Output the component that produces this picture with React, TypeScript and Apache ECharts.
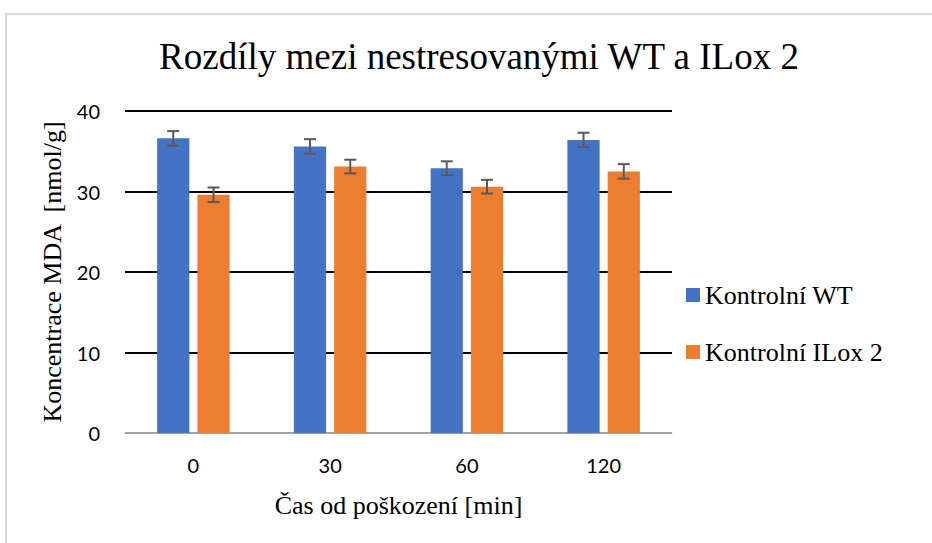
import React, { useEffect, useRef } from "react";
import * as echarts from "echarts";

const categories = ["0", "30", "60", "120"];
const wtValues = [36.6, 35.6, 32.9, 36.4];
const wtErrors = [0.9, 0.9, 0.85, 0.9];
const iloxValues = [29.6, 33.1, 30.6, 32.5];
const iloxErrors = [0.9, 0.85, 0.85, 0.9];
const seriesNames = ["Kontrolní WT", "Kontrolní ILox 2"];
const yTicks = { min: 0, max: 40, interval: 10 };

const BAR_CAT_GAP = 0.47;
const BAR_GAP = 0.25;

function errorSeries(values: number[], errors: number[], side: number) {
  return {
    type: "custom",
    silent: true,
    z: 10,
    data: values.map((v, i) => [i, v - errors[i], v + errors[i]]),
    renderItem: (params: any, api: any) => {
      const idx = api.value(0);
      const lo = api.coord([idx, api.value(1)]);
      const hi = api.coord([idx, api.value(2)]);
      const band = api.size([1, 0])[0];
      const barW = (band * (1 - BAR_CAT_GAP)) / (2 + BAR_GAP);
      const off = (barW + barW * BAR_GAP) / 2;
      const x = lo[0] + side * off;
      const cap = 6;
      const style = { stroke: "#595959", lineWidth: 2 };
      return {
        type: "group",
        children: [
          { type: "line", shape: { x1: x, y1: lo[1], x2: x, y2: hi[1] }, style },
          { type: "line", shape: { x1: x - cap, y1: lo[1], x2: x + cap, y2: lo[1] }, style },
          { type: "line", shape: { x1: x - cap, y1: hi[1], x2: x + cap, y2: hi[1] }, style },
        ],
      };
    },
  };
}

export default function App() {
  const ref = useRef<HTMLDivElement>(null);
  useEffect(() => {
    if (!ref.current) return;
    const chart = echarts.init(ref.current, null, { renderer: "svg" });
    chart.setOption({
      animation: false,
      backgroundColor: "#ffffff",
      title: {
        text: "Rozdíly mezi nestresovanými WT a ILox 2",
        left: 474,
        textAlign: "center",
        top: 33,
        textStyle: {
          fontFamily: "Liberation Serif",
          fontSize: 37,
          fontWeight: "normal",
          color: "#000000",
        },
      },
      graphic: [
        {
          type: "polyline",
          shape: { points: [[6, 543], [6, 14], [932, 14]] },
          style: { stroke: "#d9d9d9", lineWidth: 2, fill: "none" },
        },
      ],
      legend: {
        data: seriesNames,
        orient: "vertical",
        left: 681,
        top: 277,
        itemWidth: 14,
        itemHeight: 14,
        itemGap: 31,
        icon: "rect",
        textStyle: {
          fontFamily: "Liberation Serif",
          fontSize: 26,
          color: "#000000",
        },
      },
      grid: { left: 125, right: 260, top: 111, bottom: 110 },
      xAxis: {
        type: "category",
        data: categories,
        name: "Čas od poškození [min]",
        nameLocation: "middle",
        nameGap: 59,
        nameTextStyle: { fontFamily: "Liberation Serif", fontSize: 26, color: "#000000" },
        axisLine: { lineStyle: { color: "#d9d9d9", width: 1.5 } },
        axisTick: { show: false },
        axisLabel: { fontFamily: "Lato", fontSize: 20, color: "#000000", margin: 22 },
      },
      yAxis: {
        type: "value",
        min: yTicks.min,
        max: yTicks.max,
        interval: yTicks.interval,
        name: "Koncentrace MDA  [nmol/g]",
        nameLocation: "middle",
        nameGap: 60,
        nameTextStyle: { fontFamily: "Liberation Serif", fontSize: 26, color: "#000000" },
        axisLine: { show: false },
        axisTick: { show: false },
        axisLabel: { fontFamily: "Lato", fontSize: 20, color: "#000000", margin: 25 },
        splitLine: { lineStyle: { color: "#000000", width: 2 } },
      },
      series: [
        {
          name: seriesNames[0],
          type: "bar",
          data: wtValues,
          itemStyle: { color: "#4472C4" },
          barGap: BAR_GAP * 100 + "%",
          barCategoryGap: BAR_CAT_GAP * 100 + "%",
          z: 3,
        },
        {
          name: seriesNames[1],
          type: "bar",
          data: iloxValues,
          itemStyle: { color: "#ED7D31" },
          barGap: BAR_GAP * 100 + "%",
          barCategoryGap: BAR_CAT_GAP * 100 + "%",
          z: 3,
        },
        errorSeries(wtValues, wtErrors, -1),
        errorSeries(iloxValues, iloxErrors, 1),
      ],
    });
    return () => chart.dispose();
  }, []);
  return (
    <div
      ref={ref}
      style={{ position: "fixed", left: 0, top: 0, width: 932, height: 543 }}
    />
  );
}
